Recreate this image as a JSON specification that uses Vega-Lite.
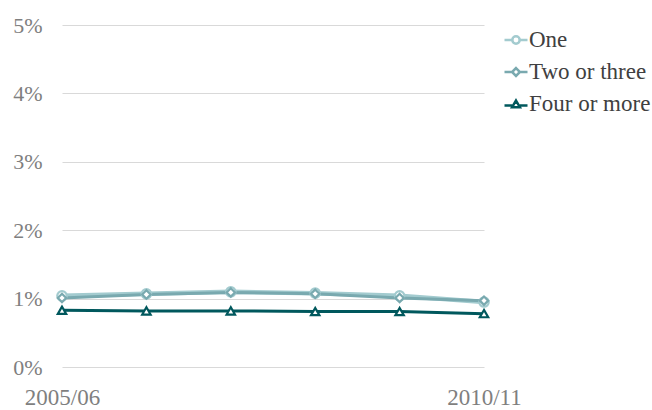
{
  "$schema": "https://vega.github.io/schema/vega-lite/v6.json",
  "width": 422,
  "height": 342,
  "autosize": {"type": "none"},
  "padding": {"left": 62, "top": 25, "right": 168, "bottom": 43},
  "background": "white",
  "config": {"view": {"stroke": null}, "font": "Liberation Serif"},
  "data": {
    "values": [
      {"year": "2005/06", "series": "One", "value": 0.0104},
      {"year": "2006/07", "series": "One", "value": 0.0107},
      {"year": "2007/08", "series": "One", "value": 0.0110},
      {"year": "2008/09", "series": "One", "value": 0.0108},
      {"year": "2009/10", "series": "One", "value": 0.0104},
      {"year": "2010/11", "series": "One", "value": 0.0095},
      {"year": "2005/06", "series": "Two or three", "value": 0.0101},
      {"year": "2006/07", "series": "Two or three", "value": 0.0106},
      {"year": "2007/08", "series": "Two or three", "value": 0.0109},
      {"year": "2008/09", "series": "Two or three", "value": 0.0107},
      {"year": "2009/10", "series": "Two or three", "value": 0.0101},
      {"year": "2010/11", "series": "Two or three", "value": 0.0097},
      {"year": "2005/06", "series": "Four or more", "value": 0.0083},
      {"year": "2006/07", "series": "Four or more", "value": 0.0082},
      {"year": "2007/08", "series": "Four or more", "value": 0.0082},
      {"year": "2008/09", "series": "Four or more", "value": 0.0081},
      {"year": "2009/10", "series": "Four or more", "value": 0.0081},
      {"year": "2010/11", "series": "Four or more", "value": 0.0078}
    ]
  },
  "encoding": {
    "x": {
      "field": "year", "type": "ordinal", "sort": null,
      "scale": {"type": "point", "padding": 0},
      "axis": {
        "title": null, "values": ["2005/06", "2010/11"], "labelAngle": 0,
        "labelFont": "Liberation Serif", "labelFontSize": 23, "labelColor": "#7f7f7f",
        "labelPadding": 19, "ticks": false, "domain": false, "grid": false,
        "labelFlush": false, "labelOverlap": false
      }
    },
    "y": {
      "field": "value", "type": "quantitative",
      "scale": {"domain": [0, 0.05], "nice": false},
      "axis": {
        "title": null, "values": [0, 0.01, 0.02, 0.03, 0.04, 0.05], "format": ".0%",
        "labelFont": "Liberation Serif", "labelFontSize": 22, "labelColor": "#7f7f7f",
        "labelPadding": 20, "ticks": false, "domain": false, "grid": true,
        "gridColor": "#d9d9d9", "gridWidth": 1
      }
    }
  },
  "layer": [
    {
      "mark": {"type": "line"},
      "encoding": {
        "detail": {"field": "series", "type": "nominal"},
        "stroke": {
          "condition": [
            {"test": "datum.series === 'One'", "value": "#a3cbcf"},
            {"test": "datum.series === 'Two or three'", "value": "#79a9af"}
          ],
          "value": "#00585d"
        },
        "strokeWidth": {"condition": {"test": "datum.series === 'One'", "value": 4.5}, "value": 3}
      }
    },
    {
      "mark": {"type": "point", "fill": "white", "fillOpacity": 1, "strokeWidth": 2.2, "opacity": 1},
      "encoding": {
        "stroke": {
          "condition": [
            {"test": "datum.series === 'One'", "value": "#a3cbcf"},
            {"test": "datum.series === 'Two or three'", "value": "#79a9af"}
          ],
          "value": "#00585d"
        },
        "shape": {
          "condition": [
            {"test": "datum.series === 'One'", "value": "circle"},
            {"test": "datum.series === 'Two or three'", "value": "diamond"}
          ],
          "value": "triangle-up"
        },
        "size": {
          "condition": {"test": "datum.series === 'One'", "value": 90},
          "value": 70
        }
      }
    },
    {
      "mark": {"type": "point", "opacity": 0.001, "fill": "white", "strokeWidth": 2.5},
      "encoding": {
        "color": {
          "field": "series", "type": "nominal",
          "scale": {"domain": ["One", "Two or three", "Four or more"], "range": ["#a3cbcf", "#79a9af", "#00585d"]},
          "legend": {
            "title": null, "orient": "none", "legendX": 441, "legendY": 2,
            "symbolOpacity": 1, "symbolSize": 529, "symbolStrokeWidth": 2.5,
            "symbolFillColor": "white",
            "labelFont": "Liberation Serif", "labelFontSize": 23, "labelColor": "#404040",
            "labelOffset": 0, "rowPadding": 7
          }
        },
        "shape": {
          "field": "series", "type": "nominal",
          "scale": {
            "domain": ["One", "Two or three", "Four or more"],
            "range": [
              "M-1,0H-0.32M0.32,0H1M0.32,0C0.32,0.177 0.177,0.32 0,0.32C-0.177,0.32 -0.32,0.177 -0.32,0C-0.32,-0.177 -0.177,-0.32 0,-0.32C0.177,-0.32 0.32,-0.177 0.32,0Z",
              "M-1,0H-0.34M0.34,0H1M0,-0.34L0.34,0L0,0.34L-0.34,0Z",
              "M-1,0.12H-0.34M0.34,0.12H1M0,-0.3L0.34,0.28L-0.34,0.28Z"
            ]
          }
        }
      }
    }
  ]
}
